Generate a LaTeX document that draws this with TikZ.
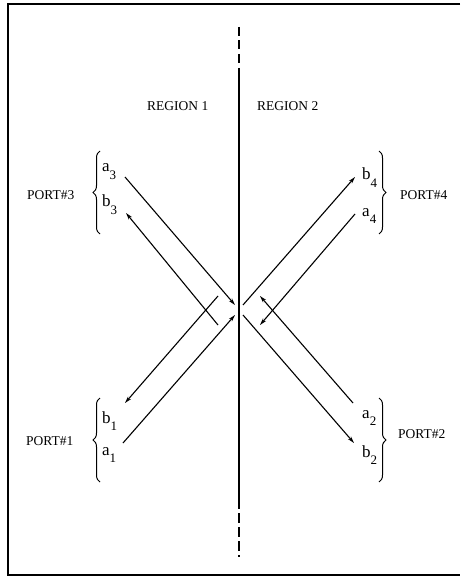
\documentclass[tikz,border=0pt]{standalone}
\usepackage{fontspec}
\setmainfont{Liberation Serif}
\usetikzlibrary{arrows.meta,decorations.pathreplacing}

% wave amplitude label: letter with a large lowered index
\newcommand{\wamp}[2]{#1\raisebox{-0.42em}{\fontsize{13}{13}\selectfont #2}}

\begin{document}
\begin{tikzpicture}[
  x=1pt, y=-1pt,
  wire/.style={line width=1.1pt, -{Stealth[length=7pt,width=4pt]}},
  plainwire/.style={line width=1.1pt},
  portlbl/.style={font=\fontsize{13.5}{15}\selectfont, inner sep=0pt, anchor=base west},
  amp/.style={font=\fontsize{17}{19}\selectfont, inner sep=0pt, anchor=base west},
  regionlbl/.style={font=\fontsize{13.5}{15}\selectfont, inner sep=0pt, anchor=base west},
  portbrace/.style={decorate, decoration={brace, amplitude=7pt}, line width=1pt},
  wall/.style={line width=2.6pt}
]
\useasboundingbox (0,0) rectangle (460,577);

% Frame
\draw[line width=1.2pt] (460,4) -- (8,4) -- (8,575) -- (460,575);

% Boundary between the two regions
\draw[wall, dash pattern=on 9pt off 4.5pt] (239,27) -- (239,66);
\draw[wall] (239,68) -- (239,509);
\draw[wall, dash pattern=on 10pt off 4pt] (239,513) -- (239,557);

% Region labels
\node[regionlbl] (reg1) at (147,111) {REGION 1};
\node[regionlbl] (reg2) at (257,111) {REGION 2};

% Port 3 (upper left)
\node[portlbl] (port3) at (27,200) {PORT\#3};
\draw[portbrace] (100,234) -- (100,151);
\node[amp] (a3) at (102,172) {\wamp{a}{3}};
\node[amp] (b3) at (102,207) {\wamp{b}{3}};

% Port 4 (upper right)
\node[portlbl] (port4) at (400,200) {PORT\#4};
\draw[portbrace] (379,151) -- (379,234);
\node[amp] (b4) at (362,180) {\wamp{b}{4}};
\node[amp] (a4) at (362,216) {\wamp{a}{4}};

% Port 1 (lower left)
\node[portlbl] (port1) at (26,445) {PORT\#1};
\draw[portbrace] (100,482) -- (100,398);
\node[amp] (b1) at (102,423) {\wamp{b}{1}};
\node[amp] (a1) at (102,455) {\wamp{a}{1}};

% Port 2 (lower right)
\node[portlbl] (port2) at (398,438) {PORT\#2};
\draw[portbrace] (379,398) -- (379,482);
\node[amp] (a2) at (362,418) {\wamp{a}{2}};
\node[amp] (b2) at (362,457) {\wamp{b}{2}};

% wire ends near the ports
\coordinate (a3o) at (125,177);
\coordinate (b3o) at (126,213);
\coordinate (b1o) at (125,403);
\coordinate (a1o) at (123,443);
\coordinate (b4o) at (355,177);
\coordinate (a4o) at (355,214);
\coordinate (a2o) at (353,403);
\coordinate (b2o) at (354,443);

% wire ends near the boundary
\coordinate (a3i) at (235,305);
\coordinate (b3i) at (218,325);
\coordinate (b1i) at (218,296);
\coordinate (a1i) at (235,315);
\coordinate (b4i) at (243,305);
\coordinate (a4i) at (260,325);
\coordinate (a2i) at (260,296);
\coordinate (b2i) at (243,315);

% Incident and scattered waves
\draw[wire] (a3o) -- (a3i);
\draw[wire] (b3i) -- (b3o);
\draw[wire] (b1i) -- (b1o);
\draw[wire] (a1o) -- (a1i);
\draw[wire] (b4i) -- (b4o);
\draw[wire] (a4o) -- (a4i);
\draw[wire] (a2o) -- (a2i);
\draw[wire] (b2i) -- (b2o);

\end{tikzpicture}
\end{document}
